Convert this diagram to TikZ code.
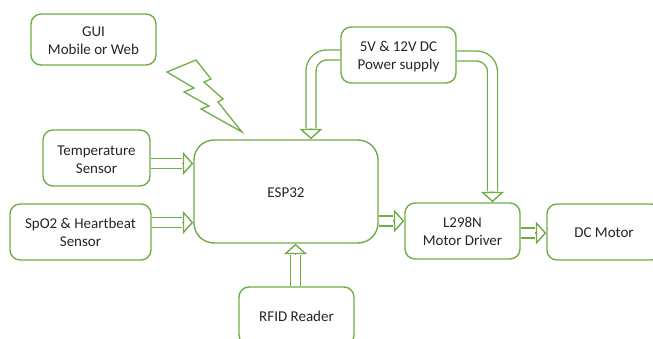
\documentclass[tikz,border=0pt]{standalone}
\usepackage{fontspec}
\setmainfont{Carlito}
\usetikzlibrary{arrows.meta}
\definecolor{boxgreen}{HTML}{70AD47}
\definecolor{inktext}{HTML}{262626}
\newcommand\liftline[1]{\rule{0pt}{#1}}
\pgfdeclarelayer{behind}
\pgfsetlayers{behind,main}
\tikzset{
  box/.style={draw=boxgreen,line width=1.4pt,fill=white,rounded corners=10pt,inner sep=0pt,align=center,
    text=inktext,font=\fontsize{15}{18}\selectfont},
  flowhead/.style={draw=boxgreen,line width=1.4pt,
    -{Triangle[open,fill=white,length=10.5pt,width=23pt]}},
  flowshaft/.style={draw=boxgreen,line width=1.4pt,double=white,double distance=8.6pt,shorten >=11pt},
  bent/.style={rounded corners=16pt},
}
\begin{document}
\begin{tikzpicture}[x=1pt,y=-1pt]
\useasboundingbox (0,0) rectangle (653,339);
\clip (0,0) rectangle (653,339);
\node[box,minimum width=125pt,minimum height=51pt] (gui) at (93.5,39.5) {\liftline{12pt}GUI\\Mobile or Web};
\node[box,minimum width=107pt,minimum height=56pt] (temp) at (96.5,158) {\liftline{14pt}Temperature\\Sensor};
\node[box,minimum width=141pt,minimum height=56pt] (spo) at (80.5,232) {SpO2 \& Heartbeat\\Sensor};
\node[box,rounded corners=20pt,minimum width=184pt,minimum height=103pt] (esp) at (286,191.5) {\liftline{11.5pt}ESP32};
\node[box,minimum width=115pt,minimum height=56pt] (power) at (398.5,55) {\liftline{14pt}5V \& 12V DC\\Power supply};
\node[box,minimum width=115pt,minimum height=56pt] (driver) at (462.5,231) {L298N\\Motor Driver};
\node[box,minimum width=114pt,minimum height=56pt] (motor) at (604,232) {\liftline{11.5pt}DC Motor};
\node[box,minimum width=115pt,minimum height=58pt] (rfid) at (296.5,316) {\liftline{11.5pt}RFID Reader};
\draw[draw=boxgreen,line width=1.3pt,line join=miter]
  (196,60) -- (167,72) -- (194,88) -- (184,92) -- (209,106) -- (201,109) -- (242,132)
  -- (218,102) -- (223,99) -- (204,82) -- (211,79) -- cycle;
\begin{pgfonlayer}{behind}
\draw[flowhead] (temp.east |- 0,163.5) -- (esp.west |- 0,163.5);
\draw[flowshaft] (temp.east |- 0,163.5) -- (esp.west |- 0,163.5);
\draw[flowhead] (spo.east |- 0,222.5) -- (esp.west |- 0,222.5);
\draw[flowshaft] (spo.east |- 0,222.5) -- (esp.west |- 0,222.5);
\draw[flowhead] (rfid.north -| 295.5,0) -- (esp.south -| 295.5,0);
\draw[flowshaft] (rfid.north -| 295.5,0) -- (esp.south -| 295.5,0);
\draw[flowhead] (esp.east |- 0,221) -- (driver.west |- 0,221);
\draw[flowshaft] (esp.east |- 0,221) -- (driver.west |- 0,221);
\draw[flowhead] (driver.east |- 0,233) -- (motor.west |- 0,233);
\draw[flowshaft] (driver.east |- 0,233) -- (motor.west |- 0,233);
\draw[flowhead,bent] (power.east |- 0,56) -| (driver.north -| 492.5,0);
\draw[flowshaft,bent] (power.east |- 0,56) -| (driver.north -| 492.5,0);
\draw[flowhead,bent] (power.west |- 0,55) -| (esp.north -| 311,0);
\draw[flowshaft,bent] (power.west |- 0,55) -| (esp.north -| 311,0);
\end{pgfonlayer}
\end{tikzpicture}
\end{document}
